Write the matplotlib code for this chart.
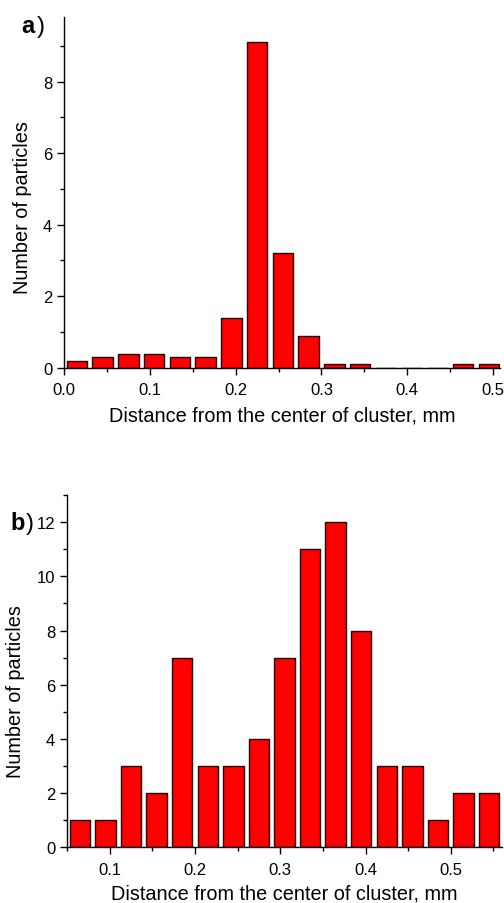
import numpy as np
import matplotlib
matplotlib.use('Agg')
import matplotlib.pyplot as plt
from matplotlib.ticker import MultipleLocator, FormatStrFormatter

plt.rcParams['font.family'] = ['Liberation Sans', 'DejaVu Sans']

# panel a)
dist_a = [0.015, 0.045, 0.075, 0.105, 0.135, 0.165, 0.195, 0.225, 0.255,
          0.285, 0.315, 0.345, 0.375, 0.405, 0.435, 0.465, 0.495]
count_a = [0.2, 0.3, 0.4, 0.4, 0.3, 0.3, 1.4, 9.1, 3.2,
           0.9, 0.1, 0.1, 0.0, 0.0, 0.0, 0.1, 0.1]

# panel b)
dist_b = [0.065, 0.095, 0.125, 0.155, 0.185, 0.215, 0.245, 0.275, 0.305,
          0.335, 0.365, 0.395, 0.425, 0.455, 0.485, 0.515, 0.545]
count_b = [1, 1, 3, 2, 7, 3, 3, 4, 7, 11, 12, 8, 3, 3, 1, 2, 2]

xlabel = 'Distance from the center of cluster, mm'
ylabel = 'Number of particles'
bin_w = 0.03

fig = plt.figure(figsize=(5.04, 9.04), dpi=100)
ax1 = fig.add_axes([0.127, 0.592, 0.865, 0.388])
ax2 = fig.add_axes([0.133, 0.062, 0.863, 0.389])


def style(ax, xlim, ylim, xlab_y, ylab_xy):
    ax.set_xlim(*xlim)
    ax.set_ylim(*ylim)
    for s in ['top', 'right']:
        ax.spines[s].set_visible(False)
    for s in ['left', 'bottom']:
        ax.spines[s].set_linewidth(1.0)
    ax.xaxis.set_major_locator(MultipleLocator(0.1))
    ax.xaxis.set_minor_locator(MultipleLocator(0.05))
    ax.yaxis.set_major_locator(MultipleLocator(2))
    ax.yaxis.set_minor_locator(MultipleLocator(1))
    ax.tick_params(which='major', direction='out', length=5, width=1, labelsize=12)
    ax.tick_params(axis='x', which='major', pad=5.5)
    ax.tick_params(which='minor', direction='out', length=3, width=1)
    ax.set_xlabel(xlabel, fontsize=14.3)
    ax.set_ylabel(ylabel, fontsize=14.3)
    ax.xaxis.set_label_coords(0.5, xlab_y)
    ax.yaxis.set_label_coords(*ylab_xy)


ax1.bar(dist_a, count_a, width=bin_w * 0.8, color='#ff0000', edgecolor='#200000', linewidth=1)
style(ax1, (0.0, 0.508), (0, 9.8), -0.108, (-0.074, 0.459))
ax1.xaxis.set_major_formatter(FormatStrFormatter('%.1f'))

ax2.bar(dist_b, count_b, width=bin_w * 0.8, color='#ff0000', edgecolor='#200000', linewidth=1)
style(ax2, (0.05, 0.56), (0, 13), -0.105, (-0.097, 0.444))

# panel letters: bold letter, regular parenthesis
fig.text(0.0417, 0.9635, 'a', fontsize=17, fontweight='bold', va='baseline')
fig.text(0.073, 0.9635, ')', fontsize=17, va='baseline')
fig.text(0.0198, 0.4137, 'b', fontsize=17, fontweight='bold', va='baseline')
fig.text(0.052, 0.4137, ')', fontsize=17, va='baseline')

fig.savefig('out.png', dpi=100)
